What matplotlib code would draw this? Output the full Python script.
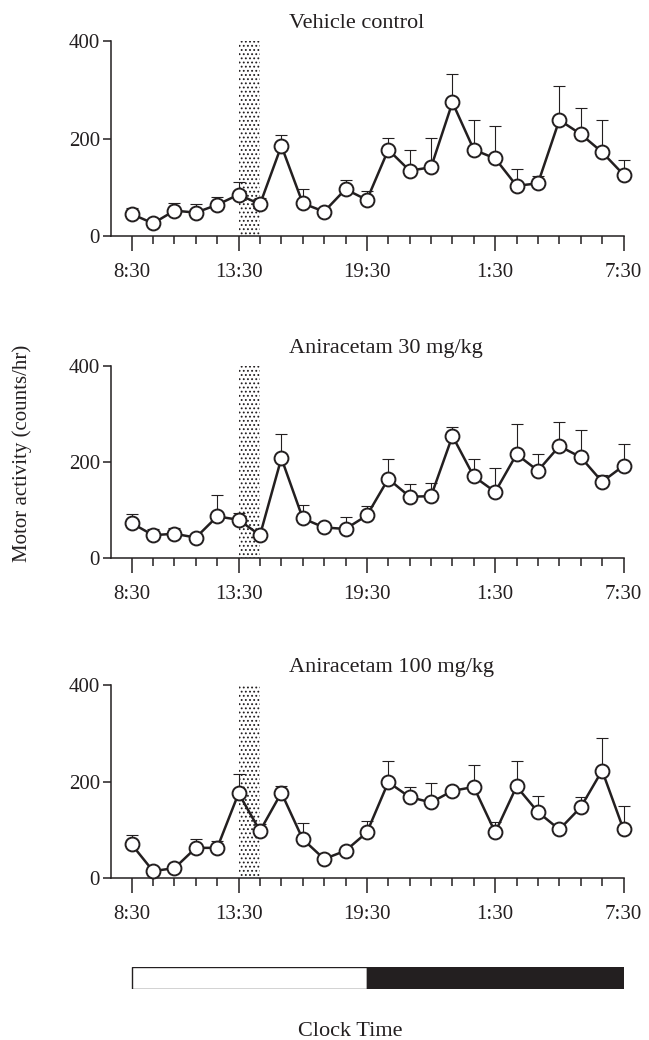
import matplotlib
matplotlib.use("Agg")
import matplotlib.pyplot as plt
import numpy as np

plt.rcParams['font.family'] = ['Liberation Serif', 'DejaVu Serif']
plt.rcParams['hatch.linewidth'] = 0.8

INK = '#231f20'

# ---- data ----
hours = list(range(24))  # hourly bins starting 8:30
major_pos = [0, 5, 11, 17, 23]
major_labels = ['8:30', '13:30', '19:30', '1:30', '7:30']
injection_window = (5, 6)      # 13:30 - 14:30
light_phase = (0, 11)          # 8:30 - 19:30
dark_phase = (11, 23)          # 19:30 - 7:30

titles = ['Vehicle control', 'Aniracetam 30 mg/kg', 'Aniracetam 100 mg/kg']

vehicle_mean = [45, 26, 52, 48, 64, 85, 65, 185, 67, 50, 96, 74,
                177, 134, 141, 274, 177, 159, 103, 108, 238, 209, 172, 126]
vehicle_sem = [12, 5, 16, 17, 15, 25, 12, 23, 29, 5, 19, 18,
               25, 43, 60, 58, 61, 67, 35, 16, 70, 53, 66, 29]

ani30_mean = [73, 48, 51, 43, 87, 80, 48, 208, 83, 64, 61, 89,
              165, 128, 129, 254, 170, 138, 216, 182, 233, 210, 159, 192]
ani30_sem = [20, 12, 11, 5, 45, 15, 5, 51, 27, 5, 24, 20,
             42, 27, 27, 19, 36, 50, 62, 35, 51, 56, 13, 46]

ani100_mean = [70, 15, 21, 63, 63, 176, 98, 177, 81, 40, 57, 95,
               199, 168, 157, 181, 189, 95, 190, 137, 101, 147, 223, 101]
ani100_sem = [20, 5, 5, 18, 14, 40, 14, 13, 33, 5, 5, 24,
              44, 20, 40, 5, 45, 22, 53, 34, 5, 22, 67, 49]

means = [vehicle_mean, ani30_mean, ani100_mean]
sems = [vehicle_sem, ani30_sem, ani100_sem]

# ---- layout (pixels) ----
W, H = 649, 1040
fig = plt.figure(figsize=(W / 100, H / 100), dpi=100)

ax_left_px, ax_right_px = 111, 623.5
x0_px = 131.7
px_per_h = (ax_right_px - x0_px) / 23
xmin = -(x0_px - ax_left_px) / px_per_h
panels_px = [(41, 236), (365.7, 558.3), (685, 878.3)]  # (top, bottom)

def fx(px):
    return px / W

def fy(py):
    return 1 - py / H

for i, (top, bot) in enumerate(panels_px):
    ax = fig.add_axes([fx(ax_left_px), fy(bot), fx(ax_right_px - ax_left_px), (bot - top) / H])
    ax.set_xlim(xmin, 23)
    ax.set_ylim(0, 400)
    ax.axvspan(injection_window[0], injection_window[1], facecolor='white',
               edgecolor=INK, hatch='....', linewidth=0, zorder=1)
    m = np.array(means[i])
    s = np.array(sems[i])
    ax.errorbar(hours, m, yerr=[np.zeros_like(s), s], fmt='none', ecolor=INK,
                elinewidth=0.8, capsize=4.5, capthick=0.8, zorder=2, clip_on=False)
    ax.plot(hours, m, '-o', color=INK, lw=1.8, ms=10, mfc='white', mec=INK,
            mew=1.4, zorder=3, clip_on=False)
    for sp in ['top', 'right']:
        ax.spines[sp].set_visible(False)
    for sp in ['left', 'bottom']:
        ax.spines[sp].set_linewidth(1.1)
        ax.spines[sp].set_color(INK)
    ax.set_yticks([0, 200, 400])
    ax.set_xticks(major_pos)
    ax.set_xticklabels(major_labels)
    ax.set_xticks(hours, minor=True)
    ax.tick_params(axis='x', which='major', length=11, width=1.1, pad=8.5,
                   labelsize=15, colors=INK)
    ax.tick_params(axis='x', which='minor', length=6, width=1.1, colors=INK)
    ax.tick_params(axis='y', which='major', length=6, width=1.1, pad=2,
                   labelsize=15, colors=INK)
    fig.text(fx(289), fy(top - 13), titles[i], ha='left', va='baseline',
             fontsize=16, color=INK)

fig.text(fx(22), fy(453), 'Motor activity (counts/hr)', rotation=90,
         ha='center', va='center', fontsize=15, color=INK)

# light/dark bar
axb = fig.add_axes([fx(ax_left_px), fy(989), fx(ax_right_px - ax_left_px), 22 / H])
axb.set_xlim(xmin, 23)
axb.set_ylim(0, 1)
axb.barh(0.5, light_phase[1] - light_phase[0], left=light_phase[0], height=1,
         color='white', edgecolor=INK, linewidth=1.0)
axb.barh(0.5, dark_phase[1] - dark_phase[0], left=dark_phase[0], height=1,
         color=INK, edgecolor=INK, linewidth=1.0)
axb.axis('off')

fig.text(fx(350), fy(1036), 'Clock Time', ha='center', va='baseline',
         fontsize=16, color=INK)

fig.savefig('out.png', dpi=100)
